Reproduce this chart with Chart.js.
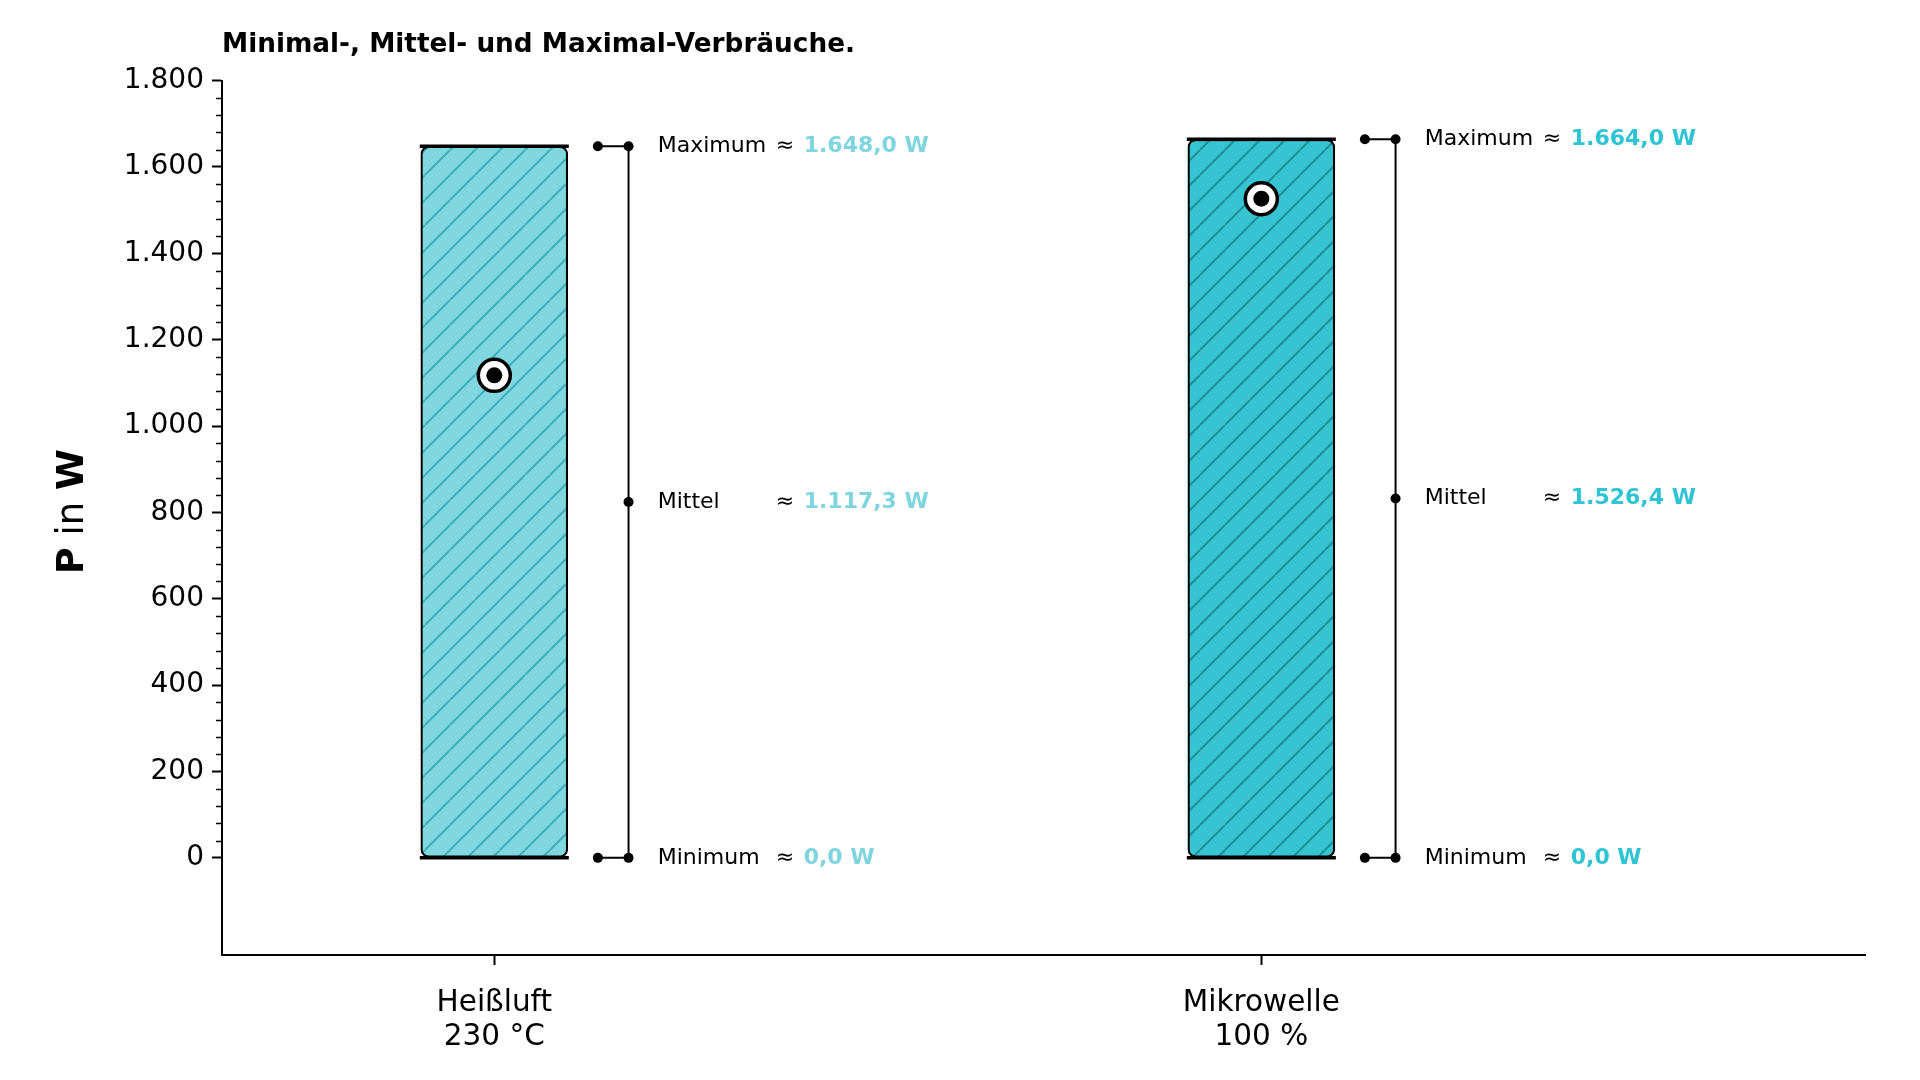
<!DOCTYPE html>
<html>
<head>
<meta charset="utf-8">
<script src="https://cdn.jsdelivr.net/npm/chart.js@4/dist/chart.umd.min.js"></script>
<style>
  html, body { margin: 0; padding: 0; background: #ffffff; }
  #wrap { width: 1920px; height: 1080px; }
</style>
</head>
<body>
<div id="wrap"><canvas id="chart" width="1920" height="1080"></canvas></div>
<script>
// ---------------- data ----------------
const categories = [["Heißluft", "230 °C"], ["Mikrowelle", "100 %"]];
const minValues  = [0.0, 0.0];
const meanValues = [1117.3, 1526.4];
const maxValues  = [1648.0, 1664.0];
const yTicks     = [0, 200, 400, 600, 800, 1000, 1200, 1400, 1600, 1800];
const statNames  = ["Maximum", "Mittel", "Minimum"];
const titleText  = "Minimal-, Mittel- und Maximal-Verbräuche.";
const yLabelParts = [["P", "bold"], [" in ", "normal"], ["W", "bold"]];

// ---------------- styles ----------------
const fillColors  = ["#80d7e0", "#37c4d2"];
const hatchColors = ["#3eaeb9", "#1e8e9a"];
const valueColors = ["#7fd5df", "#2ec4d3"];
const FONT = "'DejaVu Sans', 'Liberation Sans', sans-serif";
const Y_MIN = -225, Y_MAX = 1800, X_MIN = -0.355, X_MAX = 1.787;
const BRACKET_DX = 0.175, BRACKET_STUB = 0.04, TEXT_DX = 0.213;

function fmtDE(v, dec) {
  const s = Math.abs(v).toFixed(dec);
  let [ip, fp] = s.split(".");
  ip = ip.replace(/\B(?=(\d{3})+(?!\d))/g, ".");
  return (v < 0 ? "-" : "") + ip + (fp !== undefined ? "," + fp : "");
}

function makeHatch(bg, fg) {
  const s = 25;
  const c = document.createElement("canvas");
  c.width = s; c.height = s;
  const g = c.getContext("2d");
  g.fillStyle = bg; g.fillRect(0, 0, s, s);
  g.strokeStyle = fg; g.lineWidth = 2;
  g.beginPath();
  for (let k = -1; k <= 1; k++) { g.moveTo(k * s, s); g.lineTo(k * s + s, 0); }
  g.stroke();
  return g.createPattern(c, "repeat");
}

const ctx = document.getElementById("chart").getContext("2d");
const patterns = fillColors.map((f, i) => makeHatch(f, hatchColors[i]));

// bracket polyline for each category (gap between them)
const bracketPts = [];
categories.forEach((c, i) => {
  const xb = i + BRACKET_DX, xs = xb - BRACKET_STUB;
  const mid = (minValues[i] + maxValues[i]) / 2;
  bracketPts.push({x: xs, y: maxValues[i]}, {x: xb, y: maxValues[i]}, {x: xb, y: mid},
                  {x: xb, y: minValues[i]}, {x: xs, y: minValues[i]}, {x: xb + 0.1, y: null});
});

const decorPlugin = {
  id: "decor",
  afterDatasetsDraw(chart) {
    const g = chart.ctx, xs = chart.scales.x, ys = chart.scales.y;
    const barMeta = chart.getDatasetMeta(0);
    g.save();
    // thick lines at max & min over each bar
    barMeta.data.forEach((bar, i) => {
      const half = bar.width / 2 + 1;
      g.strokeStyle = "#000"; g.lineWidth = 3.5;
      [maxValues[i], minValues[i]].forEach(v => {
        const py = ys.getPixelForValue(v);
        g.beginPath(); g.moveTo(bar.x - half, py); g.lineTo(bar.x + half, py); g.stroke();
      });
    });
    // annotations
    categories.forEach((c, i) => {
      const x0 = xs.getPixelForValue(i + TEXT_DX);
      const rows = [
        [statNames[0], maxValues[i], maxValues[i]],
        [statNames[1], meanValues[i], (minValues[i] + maxValues[i]) / 2],
        [statNames[2], minValues[i], minValues[i]]
      ];
      rows.forEach(([name, val, at]) => {
        const py = ys.getPixelForValue(at);
        g.textBaseline = "middle"; g.textAlign = "left";
        g.fillStyle = "#000"; g.font = "22px " + FONT;
        g.fillText(name, x0, py);
        g.fillText("≈", x0 + 118, py);
        g.fillStyle = valueColors[i]; g.font = "bold 22px " + FONT;
        g.fillText(fmtDE(val, 1) + " W", x0 + 146, py);
      });
    });
    g.restore();
  },
  afterDraw(chart) {
    const g = chart.ctx, ys = chart.scales.y, area = chart.chartArea;
    g.save();
    // minor ticks
    g.strokeStyle = "#000"; g.lineWidth = 1.5;
    for (let v = yTicks[0]; v <= yTicks[yTicks.length - 1]; v += 40) {
      if (v % 200 === 0) continue;
      const py = Math.round(ys.getPixelForValue(v)) + 0.5;
      g.beginPath(); g.moveTo(area.left - 6, py); g.lineTo(area.left, py); g.stroke();
    }
    // y axis label (mixed weights), rotated
    const cy = (area.top + area.bottom) / 2 - 6;
    g.translate(73, cy); g.rotate(-Math.PI / 2);
    let total = 0;
    yLabelParts.forEach(([t, w]) => { g.font = w + " 37px " + FONT; total += g.measureText(t).width; });
    let x = -total / 2;
    g.textBaseline = "middle"; g.textAlign = "left"; g.fillStyle = "#000";
    yLabelParts.forEach(([t, w]) => { g.font = w + " 37px " + FONT; g.fillText(t, x, 0); x += g.measureText(t).width; });
    g.restore();
  }
};

new Chart(ctx, {
  type: "bar",
  data: {
    datasets: [
      {
        type: "bar",
        data: categories.map((c, i) => ({x: i, y: [minValues[i], maxValues[i]]})),
        backgroundColor: patterns,
        borderColor: "#000",
        borderWidth: 2.2,
        borderRadius: 8,
        borderSkipped: false,
        barThickness: 147,
        grouped: false,
        order: 4
      },
      {
        type: "scatter",
        data: bracketPts,
        showLine: true,
        spanGaps: false,
        borderColor: "#000",
        borderWidth: 2,
        pointRadius: (c) => (c.raw && c.raw.y === null) ? 0 : 5,
        pointBackgroundColor: "#000",
        pointBorderWidth: 0,
        order: 3
      },
      {
        type: "scatter",
        data: categories.map((c, i) => ({x: i, y: meanValues[i]})),
        pointRadius: 16,
        pointBackgroundColor: "#fff",
        pointBorderColor: "#000",
        pointBorderWidth: 3.5,
        order: 2
      },
      {
        type: "scatter",
        data: categories.map((c, i) => ({x: i, y: meanValues[i]})),
        pointRadius: 8,
        pointBackgroundColor: "#000",
        pointBorderWidth: 0,
        order: 1
      }
    ]
  },
  options: {
    responsive: false,
    animation: false,
    devicePixelRatio: 1,
    layout: { padding: { left: 0, right: 55, top: 20, bottom: 0 } },
    plugins: {
      legend: { display: false },
      tooltip: { enabled: false },
      title: {
        display: true,
        text: titleText,
        align: "start",
        fullSize: false,
        color: "#000",
        font: { family: FONT, size: 26.3, weight: "bold" },
        padding: { top: 9, bottom: 20 }
      }
    },
    scales: {
      x: {
        type: "linear",
        min: X_MIN, max: X_MAX,
        offset: false,
        afterBuildTicks: (axis) => { axis.ticks = categories.map((c, i) => ({value: i})); },
        afterFit: (axis) => { axis.height = 125; },
        ticks: {
          autoSkip: false, maxRotation: 0, padding: 21,
          color: "#000",
          font: { family: FONT, size: 29.5, lineHeight: 1.16 },
          callback: (v) => categories[Math.round(v)]
        },
        grid: { offset: false, drawOnChartArea: false, drawTicks: true, tickLength: 10, tickWidth: 2, tickColor: "#000", color: "#000" },
        border: { display: true, color: "#000", width: 2 }
      },
      y: {
        type: "linear",
        min: Y_MIN, max: Y_MAX,
        afterBuildTicks: (axis) => { axis.ticks = yTicks.map(v => ({value: v})); },
        afterFit: (axis) => { axis.width = 222; },
        ticks: {
          padding: 8, color: "#000",
          font: { family: FONT, size: 28 },
          callback: (v) => fmtDE(v, 0)
        },
        grid: { drawOnChartArea: false, drawTicks: true, tickLength: 10, tickWidth: 2, tickColor: "#000", color: "#000" },
        border: { display: true, color: "#000", width: 2 }
      }
    }
  },
  plugins: [decorPlugin]
});
</script>
</body>
</html>
